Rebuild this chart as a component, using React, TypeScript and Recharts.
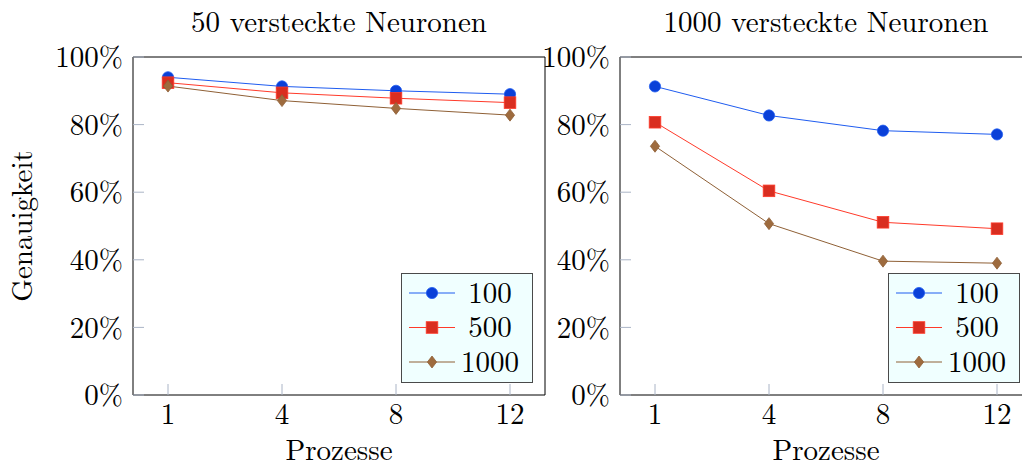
import React from "react";
import { LineChart, Line, XAxis, YAxis, Legend, Label } from "recharts";

// Prozesse (x categories)
const processes = ["1", "4", "8", "12"];
const yTicks = [0, 20, 40, 60, 80, 100];

// 50 versteckte Neuronen
const hidden50_100 = [94.0, 91.3, 90.0, 89.0];
const hidden50_500 = [92.4, 89.4, 87.8, 86.5];
const hidden50_1000 = [91.4, 87.1, 84.8, 82.8];

// 1000 versteckte Neuronen
const hidden1000_100 = [91.3, 82.7, 78.2, 77.1];
const hidden1000_500 = [80.7, 60.4, 51.1, 49.2];
const hidden1000_1000 = [73.6, 50.7, 39.6, 39.0];

const seriesNames = ["100", "500", "1000"];

const FONT = "Latin Modern Roman, Liberation Serif, serif";
const FS = 29;
const TICK_COLOR = "#aab4c6";
const TEXT = { fill: "#000", fontSize: FS, fontFamily: FONT };

type Mark = "circle" | "square" | "diamond";
const STYLES: { line: string; fill: string; mark: Mark }[] = [
  { line: "#1f5cf0", fill: "#0a40d8", mark: "circle" },
  { line: "#ff3a2a", fill: "#d92e20", mark: "square" },
  { line: "#8f6036", fill: "#9e6b3e", mark: "diamond" },
];

function marker(kind: Mark, cx: number, cy: number, fill: string, stroke: string, key?: React.Key) {
  if (cx == null || cy == null) return <g key={key} />;
  if (kind === "circle") {
    return <circle key={key} cx={cx} cy={cy} r={5.6} fill={fill} stroke={stroke} strokeWidth={0.8} />;
  }
  if (kind === "square") {
    return <rect key={key} x={cx - 5.8} y={cy - 5.8} width={11.6} height={11.6} fill={fill} stroke={stroke} strokeWidth={0.8} />;
  }
  return (
    <polygon
      key={key}
      points={`${cx},${cy - 6} ${cx + 4.6},${cy} ${cx},${cy + 6} ${cx - 4.6},${cy}`}
      fill={fill}
      stroke={stroke}
      strokeWidth={0.8}
    />
  );
}

function buildRows(values: number[][]) {
  return processes.map((p, i) => ({
    p,
    s100: values[0][i],
    s500: values[1][i],
    s1000: values[2][i],
  }));
}

const KEYS = ["s100", "s500", "s1000"];

function LegendBox() {
  return (
    <svg width={132} height={110} style={{ display: "block", overflow: "visible" }}>
      <rect x={0.5} y={0.5} width={131} height={109} fill="#f0ffff" stroke="#4a4a4a" strokeWidth={1} />
      {seriesNames.map((name, i) => {
        const cy = 20 + i * 34.5;
        return (
          <g key={name}>
            <line x1={8} x2={54} y1={cy} y2={cy} stroke={STYLES[i].line} strokeWidth={1} />
            {marker(STYLES[i].mark, 31, cy, STYLES[i].fill, STYLES[i].line)}
            <text x={89} y={cy + 9.5} textAnchor="middle" fontFamily={FONT} fontSize={FS} fill="#000">
              {name}
            </text>
          </g>
        );
      })}
    </svg>
  );
}

interface PanelProps {
  title: string;
  values: number[][];
  left: number;
  yAxisWidth: number;
  width: number;
  showYLabel: boolean;
}

function Panel({ title, values, left, yAxisWidth, width, showYLabel }: PanelProps) {
  const data = buildRows(values);
  const plotRight = width - 14 - 1;
  return (
    <div style={{ position: "absolute", left, top: 0 }}>
      <LineChart
        width={width}
        height={469}
        data={data}
        margin={{ top: 56, right: 14, bottom: 4, left: 0 }}
        style={{ fontFamily: FONT }}
      >
        <XAxis
          dataKey="p"
          type="category"
          interval={0}
          padding={{ left: 35, right: 35 }}
          height={70}
          axisLine={{ stroke: "#000", strokeWidth: 1 }}
          tickLine={{ stroke: TICK_COLOR, strokeWidth: 1 }}
          tickSize={-11}
          tickMargin={19}
          tick={TEXT}
        >
          <Label value="Prozesse" position="insideBottom" offset={5} {...TEXT} />
        </XAxis>
        <XAxis
          xAxisId="top"
          dataKey="p"
          type="category"
          orientation="top"
          interval={0}
          padding={{ left: 35, right: 35 }}
          height={1}
          axisLine={{ stroke: "#000", strokeWidth: 1 }}
          tickLine={{ stroke: TICK_COLOR, strokeWidth: 1 }}
          tickSize={-11}
          tick={false}
        >
          <Label value={title} position="top" offset={24} {...TEXT} />
        </XAxis>
        <YAxis
          domain={[0, 100]}
          ticks={yTicks}
          interval={0}
          width={yAxisWidth}
          axisLine={{ stroke: "#000", strokeWidth: 1 }}
          tickLine={{ stroke: TICK_COLOR, strokeWidth: 1 }}
          tickSize={-11}
          tickMargin={21}
          tick={TEXT}
          tickFormatter={(v: number) => `${v}%`}
        >
          {showYLabel ? (
            <Label value="Genauigkeit" angle={-90} position="insideLeft" offset={22} textAnchor="middle" {...TEXT} />
          ) : null}
        </YAxis>
        <YAxis
          yAxisId="right"
          orientation="right"
          domain={[0, 100]}
          ticks={yTicks}
          interval={0}
          width={1}
          axisLine={{ stroke: "#000", strokeWidth: 1 }}
          tickLine={{ stroke: TICK_COLOR, strokeWidth: 1 }}
          tickSize={-11}
          tick={false}
        />
        {KEYS.map((k, i) => (
          <Line
            key={k}
            dataKey={k}
            name={seriesNames[i]}
            stroke={STYLES[i].line}
            strokeWidth={1}
            isAnimationActive={false}
            dot={(p: any) => marker(STYLES[i].mark, p.cx, p.cy, STYLES[i].fill, STYLES[i].line, `${k}-${p.index}`)}
            activeDot={false}
          />
        ))}
        <Legend
          layout="horizontal"
          align="center"
          verticalAlign="middle"
          content={() => <LegendBox />}
          wrapperStyle={{ left: plotRight - 12.5 - 132, top: 273, width: 132, height: 110, overflow: "visible" }}
        />
      </LineChart>
    </div>
  );
}

export default function App() {
  return (
    <div
      style={{
        position: "absolute",
        left: 0,
        top: 0,
        width: 1022,
        height: 469,
        overflow: "hidden",
        background: "#fff",
        fontFamily: FONT,
      }}
    >
      <Panel
        title="50 versteckte Neuronen"
        values={[hidden50_100, hidden50_500, hidden50_1000]}
        left={0}
        yAxisWidth={133}
        width={560}
        showYLabel
      />
      <Panel
        title="1000 versteckte Neuronen"
        values={[hidden1000_100, hidden1000_500, hidden1000_1000]}
        left={540}
        yAxisWidth={80}
        width={507}
        showYLabel={false}
      />
    </div>
  );
}
